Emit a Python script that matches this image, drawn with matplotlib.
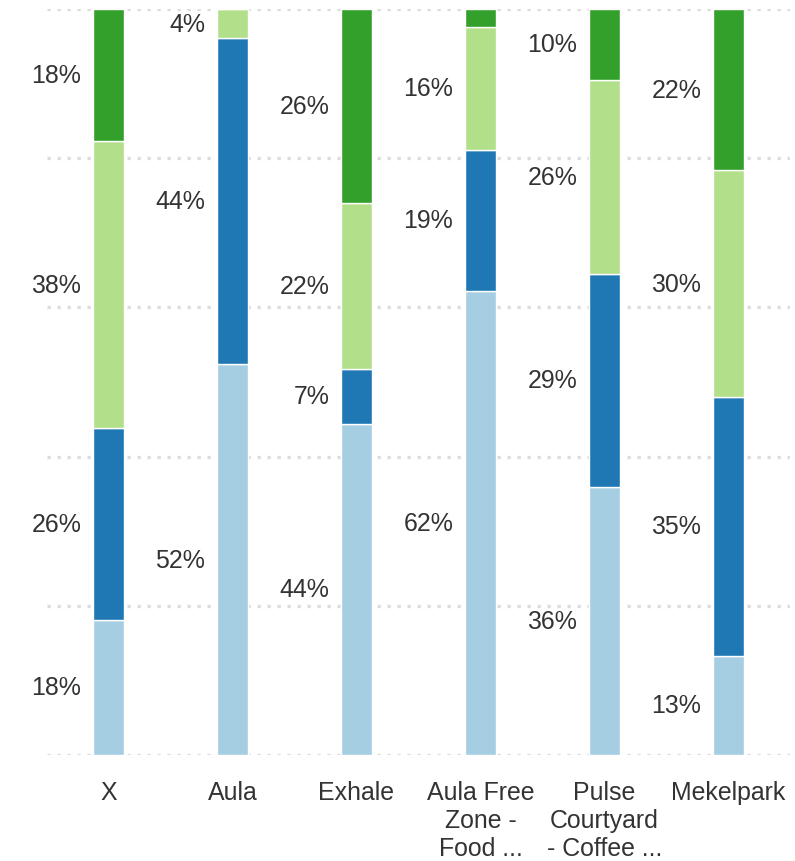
import numpy as np
import matplotlib as mpl
from matplotlib import pyplot as plt

mpl.rcParams.update({
    "font.family": ["Liberation Sans", "DejaVu Sans"],
    "font.size": 17.9,
    "text.color": "#333333",
})

# categories and stacked shares (percent), bottom to top
categories = ["X", "Aula", "Exhale", "Aula Free\nZone -\nFood ...",
              "Pulse\nCourtyard\n- Coffee ...", "Mekelpark"]
seg1 = [18.1, 52.4, 44.4, 62.2, 35.9, 13.3]   # light blue
seg2 = [25.7, 43.7, 7.4, 18.9, 28.6, 34.7]    # dark blue
seg3 = [38.5, 3.9, 22.2, 16.5, 26.0, 30.4]    # light green
seg4 = [17.7, 0.0, 26.0, 2.4, 9.5, 21.6]      # dark green
series = [seg1, seg2, seg3, seg4]
colors = ["#a6cee3", "#1f78b4", "#b2df8a", "#33a02c"]

fig = plt.figure(figsize=(7.95, 8.62), dpi=100)
ax = fig.add_axes([0.0585, 0.123, 0.9358, 0.8654])

x = np.arange(len(categories))
width = 0.25
bottom = np.zeros(len(categories))
for vals, col in zip(series, colors):
    vals = np.array(vals)
    ax.bar(x, vals, width, bottom=bottom, color=col, edgecolor="white",
           linewidth=1.0, zorder=3)
    for xi, b, v in zip(x, bottom, vals):
        if v >= 3:
            ax.text(xi - width / 2 - 0.095, b + v / 2, f"{v:.0f}%",
                    ha="right", va="center", color="#333333")
    bottom += vals

ax.set_xlim(-0.5, len(categories) - 0.5)
ax.set_ylim(0, 100)
ax.set_yticks([0, 20, 40, 60, 80, 100])
ax.set_yticklabels([])
ax.set_xticks(x)
ax.set_xticklabels(categories, color="#333333", linespacing=1.22)
ax.tick_params(axis="both", length=0)
ax.tick_params(axis="x", pad=18)
ax.grid(axis="y", color="#dddddd", linewidth=2.4, linestyle=(0, (1, 2)), zorder=0)
for s in ax.spines.values():
    s.set_visible(False)

plt.savefig("out.png", dpi=100)
plt.close()
